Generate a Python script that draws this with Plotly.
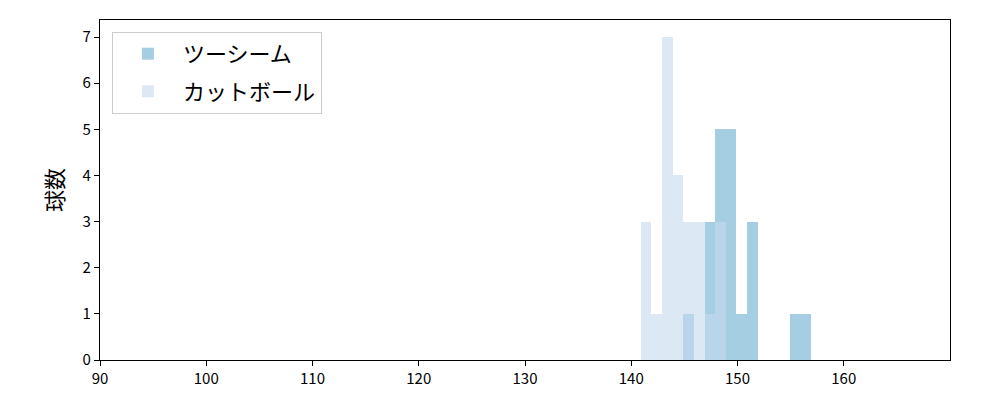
import plotly.graph_objects as go

# histogram bins (left edges) and pitch counts
bin_width = 1.0
two_seam_bins = [144.9, 146.9, 147.9, 148.9, 149.9, 150.9, 154.9, 155.9]
two_seam_counts = [1, 3, 5, 5, 1, 3, 1, 1]
cutter_bins = [140.9, 141.9, 142.9, 143.9, 144.9, 145.9, 146.9, 147.9]
cutter_counts = [3, 1, 7, 4, 3, 3, 1, 3]

x_ticks = [90, 100, 110, 120, 130, 140, 150, 160]
y_ticks = [0, 1, 2, 3, 4, 5, 6, 7]

font = "Noto Sans CJK JP, Noto Sans, sans-serif"

fig = go.Figure()

fig.add_trace(go.Bar(
    x=two_seam_bins,
    y=two_seam_counts,
    width=bin_width,
    offset=0,
    name="ツーシーム",
    legendgroup="a",
    marker=dict(color="#a6cee3", line=dict(width=0)),
))

fig.add_trace(go.Bar(
    x=cutter_bins,
    y=cutter_counts,
    width=bin_width,
    offset=0,
    name="カットボール",
    legendgroup="b",
    marker=dict(color="#c6dbef", line=dict(width=0)),
    opacity=0.6,
))

# page body has an 8px offset, so margins are shifted to land the plot area
fig.update_layout(
    width=1000,
    height=400,
    barmode="overlay",
    bargap=0,
    plot_bgcolor="white",
    paper_bgcolor="white",
    margin=dict(l=92, r=58, t=12, b=48),
    font=dict(family=font, size=15, color="black"),
    legend=dict(
        x=0.014, y=0.965, xanchor="left", yanchor="top",
        bgcolor="white", bordercolor="#cccccc", borderwidth=1,
        font=dict(size=22),
        traceorder="grouped",
        tracegroupgap=6,
        itemwidth=60,
    ),
)

fig.update_xaxes(
    range=[90, 170],
    tickvals=x_ticks,
    showgrid=False, zeroline=False,
    showline=True, linecolor="black", linewidth=1.3, mirror=True,
    ticks="outside", ticklen=5, tickcolor="black", tickwidth=1.3,
)
fig.update_yaxes(
    range=[0, 7.37],
    tickvals=y_ticks,
    showgrid=False, zeroline=False,
    showline=True, linecolor="black", linewidth=1.3, mirror=True,
    ticks="outside", ticklen=5, tickcolor="black", tickwidth=1.3,
    title=dict(text="球数", font=dict(size=22), standoff=12),
)

fig.write_html("out.html")
